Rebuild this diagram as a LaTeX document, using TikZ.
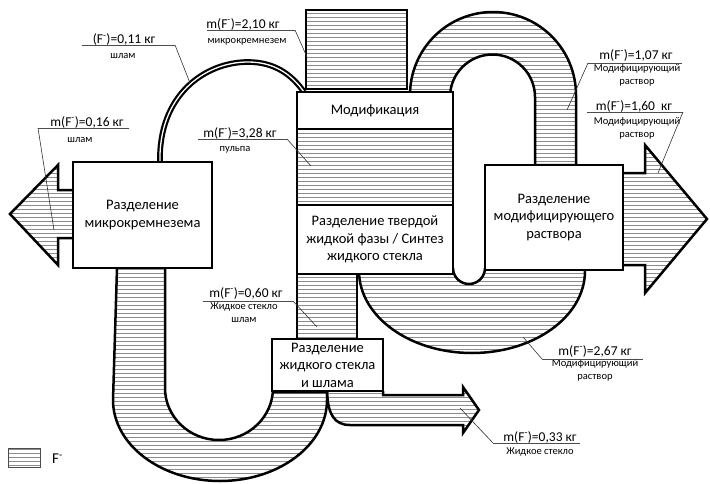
\documentclass[tikz,border=0pt]{standalone}
\usepackage{fontspec}
\setmainfont{Carlito}
\usetikzlibrary{patterns}
\pgfdeclarepatternformonly{hlines}{\pgfqpoint{-1pt}{-1pt}}{\pgfqpoint{5pt}{5pt}}{\pgfqpoint{4pt}{4pt}}{%
  \pgfsetlinewidth{0.6pt}%
  \pgfpathmoveto{\pgfqpoint{-1pt}{2pt}}%
  \pgfpathlineto{\pgfqpoint{5pt}{2pt}}%
  \pgfusepath{stroke}}
\begin{document}
\begin{tikzpicture}[x=1pt,y=-1pt,line join=miter,
  hatch/.style={pattern=hlines,pattern color=black!45},
  band/.style={hatch,draw=black,line width=2.5pt},
  hbox/.style={band,inner sep=0pt,outer sep=0pt},
  box/.style={draw=black,line width=2.6pt,fill=white,inner sep=0pt,outer sep=0pt,align=center,font=\fontsize{14.5}{17.5}\selectfont},
  val/.style={font=\fontsize{13.5}{15}\selectfont,inner sep=0pt,anchor=base},
  sub/.style={font=\fontsize{10.5}{13}\selectfont,inner sep=0pt,align=center},
  uline/.style={line width=0.9pt,draw=black!70},
  leader/.style={line width=0.6pt,draw=black!80},
  dbl/.style={line width=2.2pt,double=white,double distance=1.3pt}]
\useasboundingbox (0,0) rectangle (710,483);

% hatched flows
\draw[band] (73,190) -- (58,190) -- (58,165) -- (10,214) -- (58,265) -- (58,238) -- (73,238);
\draw[band] (623,173) -- (645,173) -- (645,145) -- (707,219) -- (645,293) -- (645,265) -- (623,265);
\draw[band] (117,268) -- (113,400) arc[start angle=180,end angle=0,x radius=107,y radius=81]
  -- (327,392) -- (273,392) -- (273,388) arc[start angle=0,end angle=180,x radius=54,y radius=52] -- (165,268);
\draw[band] (327,392) .. controls (328,414) and (334,425) .. (350,425) -- (463,425) -- (463,433)
  -- (479,410) -- (463,387) -- (463,395) -- (383,395) -- (383,391);
\node[hbox,minimum width=101,minimum height=79] (mcs) at (356.5,49.5) {};
\draw[band] (410,92) -- (410,95) arc[start angle=180,end angle=360,radius=83] -- (576,165)
  -- (535,165) -- (535,97) arc[start angle=0,end angle=-180,radius=42.5] -- (450,92);
\fill[hatch] (359,271) arc[start angle=180,end angle=0,x radius=113,y radius=82] -- cycle;
\draw[line width=2.5pt] (359,271) arc[start angle=180,end angle=0,x radius=113,y radius=82];
\node[hbox,minimum width=60,minimum height=65] (band) at (327,306.5) {};
\fill[white] (453,268) arc[start angle=180,end angle=0,radius=16] -- cycle;
\draw[line width=2.5pt] (453,268) arc[start angle=180,end angle=0,radius=16];

% double line
\coordinate (da) at (160,163);
\coordinate (db) at (304,92);
\draw[dbl] (da) .. controls (158,95) and (205,62) .. (248,62) .. controls (275,62) and (292,75) .. (db);

% boxes
\node[box,minimum width=139,minimum height=106] (b1) at (142.5,215) {Разделение\\микрокремнезема};
\node[box,minimum width=156,minimum height=37] (mod) at (375,110.5) {Модификация};
\node[hbox,draw=black,line width=2.6pt,minimum width=156,minimum height=76] (pulp) at (375,167) {};
\node[box,minimum width=156,minimum height=69] (sep) at (375,239.5) {Разделение твердой\\жидкой фазы / Синтез\\жидкого стекла};
\node[box,minimum width=138,minimum height=105] (sepmod) at (554,217.5) {Разделение\\модифицирующего\\раствора};
\node[box,minimum width=111,minimum height=52] (sepgl) at (327.5,365) {Разделение\\жидкого стекла\\и шлама};

% labels
\node[val] (v1) at (124,43.5) {(F\textsuperscript{-})=0,11 кг};
\node[sub] (s1) at (123,56) {шлам};
\coordinate (u1a) at (82,45); \coordinate (u1b) at (175,45); \coordinate (p1) at (190,83);
\draw[uline] (u1a) -- (u1b); \draw[leader] (u1b) -- (p1);

\node[val] (v2) at (243,28) {m(F\textsuperscript{-})=2,10 кг};
\node[sub] (s2) at (247,42) {микрокремнезем};
\coordinate (u2a) at (207,30); \coordinate (u2b) at (295,30); \coordinate (p2) at (307,57);
\draw[uline] (u2a) -- (u2b); \draw[leader] (u2b) -- (p2);

\node[val] (v3) at (87,126) {m(F\textsuperscript{-})=0,16 кг};
\node[sub] (s3) at (80,140) {шлам};
\coordinate (u3a) at (38,128); \coordinate (u3b) at (129,128); \coordinate (p3) at (54,230);
\draw[uline] (u3a) -- (u3b); \draw[leader] (u3a) -- (p3);

\node[val] (v4) at (240,137) {m(F\textsuperscript{-})=3,28 кг};
\node[sub] (s4) at (235,150) {пульпа};
\coordinate (u4a) at (198,139); \coordinate (u4b) at (287,139); \coordinate (p4) at (311,166);
\draw[uline] (u4a) -- (u4b); \draw[leader] (u4b) -- (p4);

\node[val] (v5) at (636,59) {m(F\textsuperscript{-})=1,07 кг};
\node[sub] (s5) at (637,75.5) {Модифицирующий\\раствор};
\coordinate (u5a) at (588,63); \coordinate (u5b) at (682,63); \coordinate (p5) at (567,110);
\draw[uline] (u5a) -- (u5b); \draw[leader] (u5a) -- (p5);

\node[val] (v6) at (634,110) {m(F\textsuperscript{-})=1,60~ кг};
\node[sub] (s6) at (637,128) {Модифицирующий\\раствор};
\coordinate (u6a) at (587,112); \coordinate (u6b) at (683,112); \coordinate (p6) at (658,173);
\draw[uline] (u6a) -- (u6b); \draw[leader] (u6b) -- (p6);

\node[val] (v7) at (246,297) {m(F\textsuperscript{-})=0,60 кг};
\node[sub] (s7) at (244,312.5) {Жидкое стекло\\шлам};
\coordinate (u7a) at (203,301); \coordinate (u7b) at (293,301); \coordinate (p7) at (317,327);
\draw[uline] (u7a) -- (u7b); \draw[leader] (u7b) -- (p7);

\node[val] (v8) at (595,355) {m(F\textsuperscript{-})=2,67 кг};
\node[sub] (s8) at (595,370.5) {Модифицирующий\\раствор};
\coordinate (u8a) at (542,359); \coordinate (u8b) at (643,359); \coordinate (p8) at (523,337);
\draw[uline] (u8a) -- (u8b); \draw[leader] (u8a) -- (p8);

\node[val] (v9) at (540,441) {m(F\textsuperscript{-})=0,33 кг};
\node[sub] (s9) at (540,452) {Жидкое стекло};
\coordinate (u9a) at (493,443); \coordinate (u9b) at (580,443); \coordinate (p9) at (460,408);
\draw[uline] (u9a) -- (u9b); \draw[leader] (u9a) -- (p9);

% legend
\node[hatch,draw=black!70,line width=0.8pt,inner sep=0pt,minimum width=32,minimum height=19] (leg) at (24,457.5) {};
\node[font=\fontsize{15}{17}\selectfont,inner sep=0pt,anchor=west] (legt) at (52,459) {F\textsuperscript{-}};
\end{tikzpicture}
\end{document}
